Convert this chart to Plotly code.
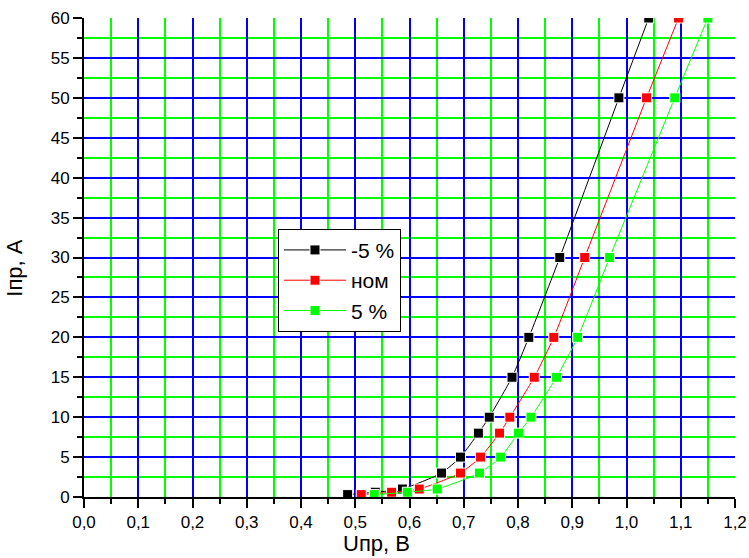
import plotly.graph_objects as go

# Forward current (A) at which the voltage was measured
current = [0.3, 0.6, 1, 3, 5, 8, 10, 15, 20, 30, 50, 60]

# Forward voltage (V) for the three supply variants
u_minus5 = [0.486, 0.537, 0.587, 0.659, 0.694, 0.727, 0.747, 0.789, 0.820, 0.877, 0.986, 1.041]
u_nom = [0.511, 0.567, 0.618, 0.694, 0.731, 0.766, 0.785, 0.830, 0.866, 0.923, 1.037, 1.096]
u_plus5 = [0.535, 0.596, 0.651, 0.729, 0.768, 0.801, 0.824, 0.871, 0.910, 0.969, 1.089, 1.150]

series = [
    ("-5 %", u_minus5, "#000000"),
    ("ном", u_nom, "#FF0000"),
    ("5 %", u_plus5, "#00FF00"),
]

FONT = "Liberation Sans, Arial, sans-serif"

fig = go.Figure()
for name, u, color in series:
    fig.add_trace(go.Scatter(
        x=u, y=current, name=name, mode="lines+markers",
        line=dict(color=color, width=1, shape="spline", smoothing=0.5),
        marker=dict(symbol="square", size=10, color=color,
                    line=dict(color="white", width=1)),
    ))

axis_common = dict(
    showline=True, linecolor="black", linewidth=2,
    ticks="outside", ticklen=9, tickwidth=2, tickcolor="black",
    showgrid=True, gridcolor="#0000FF", gridwidth=1.6,
    zeroline=False, automargin=False,
    tickfont=dict(family=FONT, size=17, color="black"),
)

fig.update_xaxes(
    range=[0, 1.2], dtick=0.1, tick0=0, tickformat=".1f",
    minor=dict(dtick=0.05, ticks="outside", ticklen=5, tickwidth=2,
               tickcolor="black", showgrid=True, gridcolor="#00FF00", gridwidth=1.6),
    **axis_common,
)
fig.update_yaxes(
    range=[0, 60], dtick=5, tick0=0,
    minor=dict(dtick=2.5, ticks="outside", ticklen=5, tickwidth=2,
               tickcolor="black", showgrid=True, gridcolor="#00FF00", gridwidth=1.6),
    **axis_common,
)

fig.add_annotation(text="Uпр, B", xref="paper", yref="paper",
                   x=0.45, y=-0.097, xanchor="center", yanchor="middle",
                   showarrow=False, font=dict(family=FONT, size=22, color="black"))
fig.add_annotation(text="Iпр, A", xref="paper", yref="paper",
                   x=-0.108, y=0.478, xanchor="center", yanchor="middle",
                   textangle=-90, showarrow=False,
                   font=dict(family=FONT, size=22, color="black"))

fig.update_layout(
    width=749, height=558,
    margin=dict(l=84, r=14, t=18, b=61),
    paper_bgcolor="white", plot_bgcolor="white",
    separators=", ",
    font=dict(family=FONT, color="black"),
    legend=dict(
        x=0.298, y=0.56, xanchor="left", yanchor="top",
        bgcolor="white", bordercolor="black", borderwidth=1,
        font=dict(family=FONT, size=21, color="black"),
        itemwidth=62, tracegroupgap=0,
    ),
)

fig.write_html("out.html")
